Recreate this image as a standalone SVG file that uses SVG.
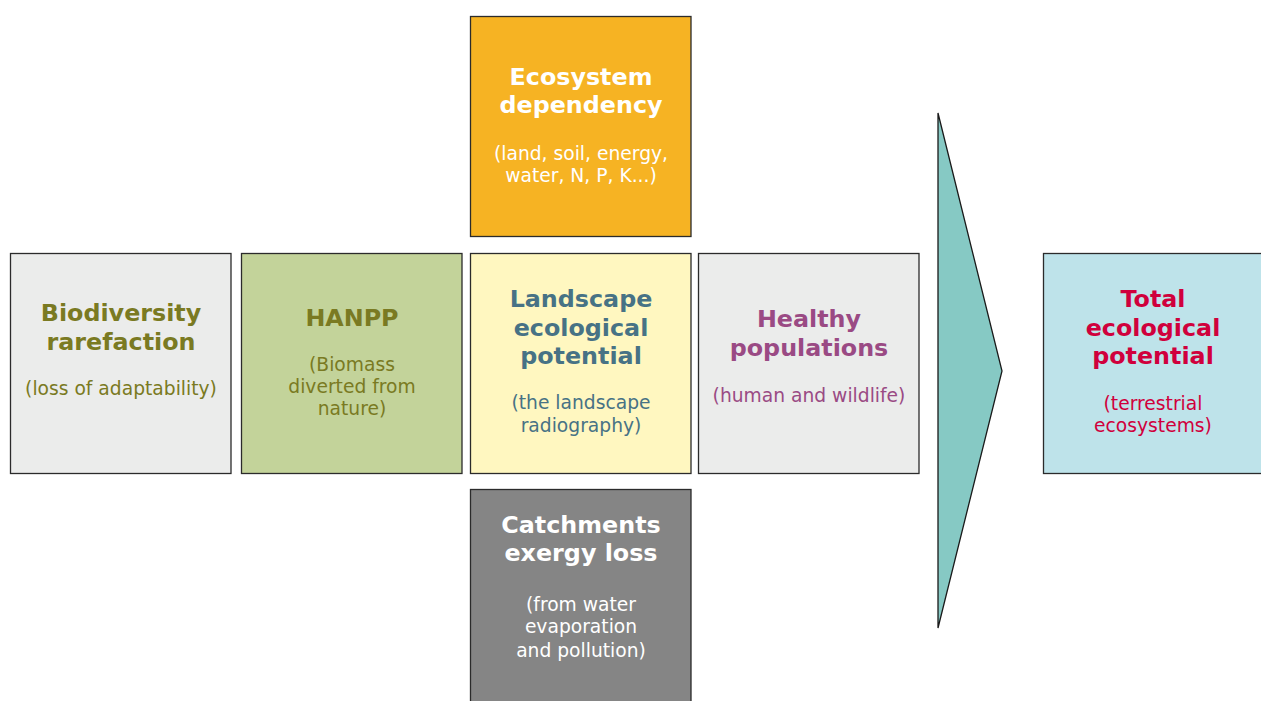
<svg xmlns="http://www.w3.org/2000/svg" width="1261" height="701" viewBox="0 0 1261 701">
<style>
  .box { stroke: #2b2b2b; stroke-width: 1.3; }
  .t { font-family: "DejaVu Sans", Verdana, sans-serif; font-weight: bold; font-size: 23.8px; text-anchor: middle; }
  .s { font-family: "DejaVu Sans", Verdana, sans-serif; font-size: 18.7px; text-anchor: middle; }
  .olive { fill: #7a7a22; }
  .blue { fill: #477285; }
  .purple { fill: #9a4a84; }
  .white { fill: #ffffff; }
  .red { fill: #d0003c; }
</style>
<rect width="1261" height="701" fill="#ffffff"/>
<g id="connectors">
  <polygon points="938,113 1002,371 938,628" fill="#86c9c4" stroke="#1a1a1a" stroke-width="1.3"/>
</g>
<g id="ecosystem">
  <rect class="box" x="470.5" y="16.5" width="220.5" height="220" fill="#f6b323"/>
  <text class="t white" x="581" y="85">Ecosystem</text>
  <text class="t white" x="581" y="113">dependency</text>
  <text class="s white" x="581" y="160">(land, soil, energy,</text>
  <text class="s white" x="581" y="182">water, N, P, K...)</text>
</g>
<g id="biodiversity">
  <rect class="box" x="10.5" y="253.5" width="220.5" height="220" fill="#ebeceb"/>
  <text class="t olive" x="121" y="321">Biodiversity</text>
  <text class="t olive" x="121" y="350">rarefaction</text>
  <text class="s olive" x="121" y="395">(loss of adaptability)</text>
</g>
<g id="hanpp">
  <rect class="box" x="241.5" y="253.5" width="220.5" height="220" fill="#c3d39a"/>
  <text class="t olive" x="352" y="326">HANPP</text>
  <text class="s olive" x="352" y="371">(Biomass</text>
  <text class="s olive" x="352" y="393">diverted from</text>
  <text class="s olive" x="352" y="415">nature)</text>
</g>
<g id="landscape">
  <rect class="box" x="470.5" y="253.5" width="220.5" height="220" fill="#fff7c0"/>
  <text class="t blue" x="581" y="306.5">Landscape</text>
  <text class="t blue" x="581" y="335.5">ecological</text>
  <text class="t blue" x="581" y="364">potential</text>
  <text class="s blue" x="581" y="409">(the landscape</text>
  <text class="s blue" x="581" y="431.5">radiography)</text>
</g>
<g id="healthy">
  <rect class="box" x="698.5" y="253.5" width="220.5" height="220" fill="#ebeceb"/>
  <text class="t purple" x="809" y="327">Healthy</text>
  <text class="t purple" x="809" y="356">populations</text>
  <text class="s purple" x="809" y="401.5">(human and wildlife)</text>
</g>
<g id="catchments">
  <rect class="box" x="470.5" y="489.5" width="220.5" height="220" fill="#858585"/>
  <text class="t white" x="581" y="533">Catchments</text>
  <text class="t white" x="581" y="561">exergy loss</text>
  <text class="s white" x="581" y="611">(from water</text>
  <text class="s white" x="581" y="633">evaporation</text>
  <text class="s white" x="581" y="656.5">and pollution)</text>
</g>
<g id="total">
  <rect class="box" x="1043.5" y="253.5" width="220.5" height="220" fill="#bee3ea"/>
  <text class="t red" x="1153" y="307">Total</text>
  <text class="t red" x="1153" y="336">ecological</text>
  <text class="t red" x="1153" y="364">potential</text>
  <text class="s red" x="1153" y="409.5">(terrestrial</text>
  <text class="s red" x="1153" y="432">ecosystems)</text>
</g>
</svg>
